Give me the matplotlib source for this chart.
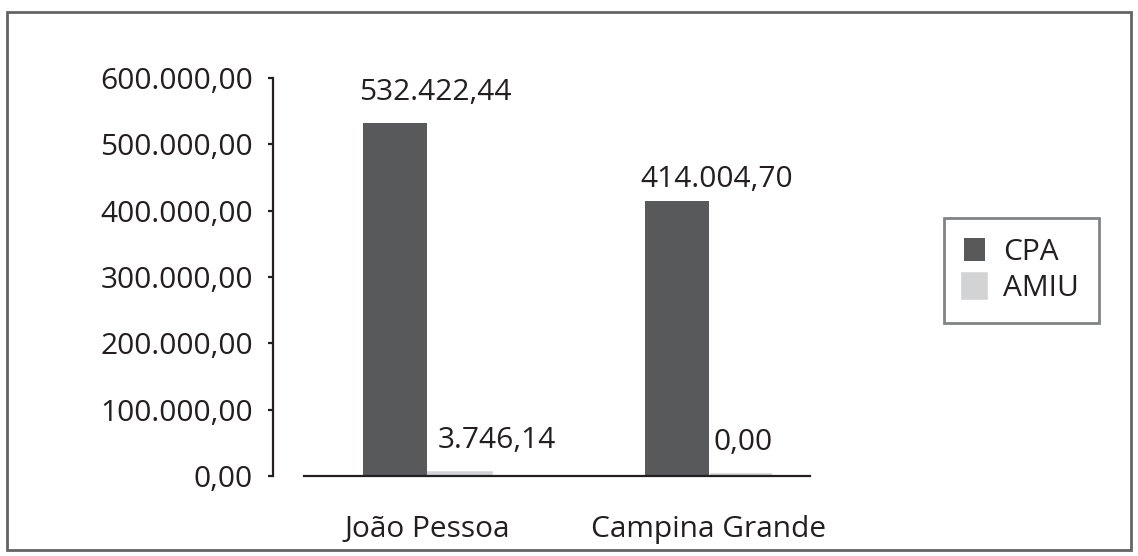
import numpy as np
import matplotlib.pyplot as plt
from matplotlib.patches import Rectangle

# Values (R$) per city and program
cities = ["João Pessoa", "Campina Grande"]
cpa_values = [532422.44, 414004.70]
amiu_values = [3746.14, 0.00]
series_names = ["CPA", "AMIU"]
y_ticks = [0, 100000, 200000, 300000, 400000, 500000, 600000]

CPA_COLOR = "#58595b"
AMIU_COLOR = "#d1d3d4"
INK = "#231f20"
FRAME = "#636466"


def brl(v):
    # Brazilian number format: 1.234,56
    s = f"{v:,.2f}"
    return s.replace(",", "X").replace(".", ",").replace("X", ".")


plt.rcParams["font.family"] = ["Open Sans", "DejaVu Sans"]
plt.rcParams["font.size"] = 21.5
plt.rcParams["text.color"] = INK

W, H = 1138, 556
fig = plt.figure(figsize=(W / 100, H / 100), dpi=100)
ax = fig.add_axes([273 / W, 1 - 476 / H, (810 - 273) / W, (476 - 78) / H])

x = np.arange(len(cities))
width = 0.227
cpa_bars = ax.bar(x - width / 2, cpa_values, width, color=CPA_COLOR,
                  label=series_names[0], zorder=2)
amiu_bars = ax.bar(x + width / 2, amiu_values, width - 0.01, color=AMIU_COLOR,
                   edgecolor=AMIU_COLOR, linewidth=4,
                   label=series_names[1], zorder=1)

# data labels, offsets in pixels
label_offsets = [(40, 30), (40, 22), (38, 33), (2, 33)]
bars = list(cpa_bars) + list(amiu_bars)
values = cpa_values + amiu_values
for bar, val, (dx, dy) in zip(bars, values, label_offsets):
    ax.annotate(brl(val), (bar.get_x() + bar.get_width() / 2, val),
                xytext=(dx, dy), textcoords="offset pixels",
                ha="center", va="center", color=INK)

ax.set_xlim(-0.546, 1.358)
ax.set_ylim(0, 600000)
ax.set_yticks(y_ticks)
ax.set_yticklabels([brl(v) for v in y_ticks])
ax.set_xticks(x)
ax.set_xticklabels(cities)

for side in ["top", "right"]:
    ax.spines[side].set_visible(False)
ax.spines["left"].set_bounds(0, 600000)
ax.spines["bottom"].set_bounds(-0.436, 1.358)
for side in ["left", "bottom"]:
    ax.spines[side].set_color(INK)
    ax.spines[side].set_linewidth(1.6)
    ax.spines[side].set_zorder(3)

ax.tick_params(axis="y", length=3.6, width=1.6, pad=11, colors=INK)
ax.tick_params(axis="x", length=0, pad=28, colors=INK)

leg = fig.legend(loc="center", bbox_to_anchor=(1021.5 / W, 1 - 270.5 / H),
                 fancybox=False, handlelength=0.72, handleheight=0.78,
                 handletextpad=0.6, labelspacing=0.25, borderpad=0.65)
leg.get_frame().set_edgecolor(FRAME)
leg.get_frame().set_linewidth(2)

# outer frame around the whole chart
fig.patches.append(Rectangle((7 / W, 1 - 550 / H), (1131 - 7) / W, (550 - 12) / H,
                             transform=fig.transFigure, fill=False,
                             edgecolor=FRAME, linewidth=2))

fig.savefig("out.png", dpi=100)
